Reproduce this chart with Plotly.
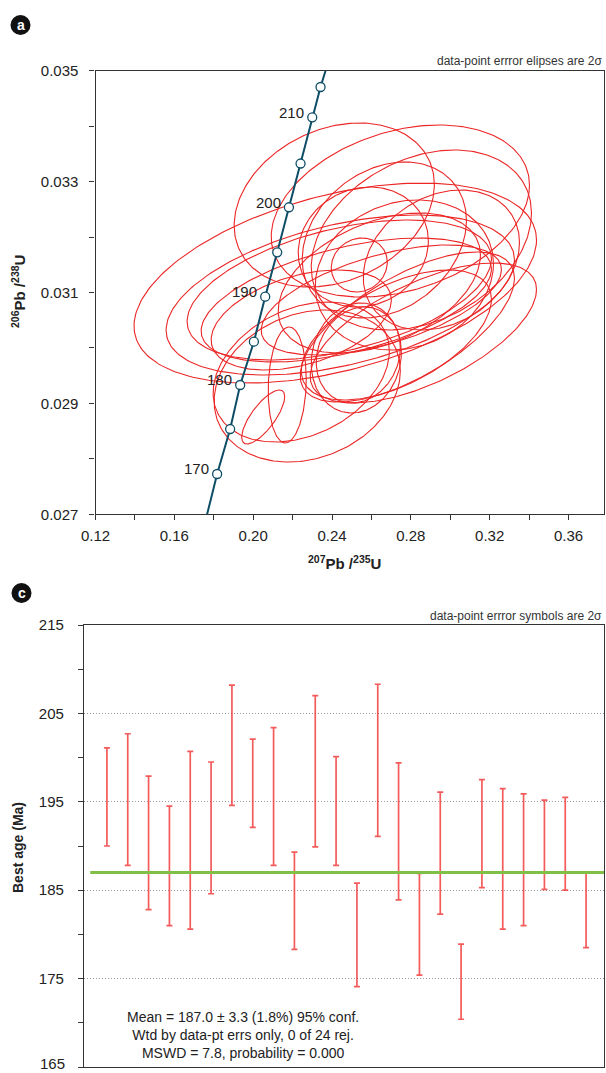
import numpy as np
import plotly.graph_objects as go

# ---------------- data: concordia (panel a) ----------------
conc_age = [170, 175, 180, 185, 190, 195, 200, 205, 210, 215]
conc_x = [0.18171, 0.18832, 0.19340, 0.20036, 0.20610, 0.21219, 0.21813, 0.22403, 0.22997, 0.23418]
conc_y = [0.027727, 0.028538, 0.029332, 0.030113, 0.030924, 0.031725, 0.032537, 0.033326, 0.034160, 0.034706]
conc_end_x = [0.17663, 0.23672]
conc_end_y = [0.027, 0.035]
conc_labels = [170, 180, 190, 200, 210]

# ---------------- data: error ellipses (panel a, 2 sigma) ----------------
ell_x = [0.24114, 0.27467, 0.26654, 0.25384, 0.25587, 0.24165, 0.24419, 0.24368,
         0.24724, 0.22743, 0.22438, 0.20508, 0.21727, 0.28635, 0.27822, 0.27263,
         0.25232, 0.25333, 0.29549, 0.27670, 0.26400, 0.28533, 0.26502, 0.22438]
ell_sx = [0.05079, 0.06552, 0.04165, 0.01422, 0.03302, 0.10210, 0.08838, 0.07721,
          0.07365, 0.04724, 0.04470, 0.01092, 0.00965, 0.05740, 0.05435, 0.04825,
          0.02286, 0.02133, 0.03962, 0.04521, 0.05130, 0.05587, 0.06095, 0.04571]
ell_y = [0.032578, 0.032470, 0.031947, 0.031496, 0.031821, 0.031171, 0.030955, 0.031045,
         0.030865, 0.029314, 0.029566, 0.028755, 0.029332, 0.030270, 0.030378, 0.030234,
         0.029819, 0.029873, 0.031586, 0.031316, 0.031171, 0.031947, 0.030865, 0.030504]
ell_sy = [0.001479, 0.001551, 0.001407, 0.000487, 0.001082, 0.001803, 0.001443, 0.001262,
          0.001118, 0.001371, 0.001262, 0.000487, 0.001046, 0.001262, 0.001353, 0.001172,
          0.000992, 0.000866, 0.001262, 0.001353, 0.001262, 0.001623, 0.000992, 0.000902]
ell_rho = [0.25, 0.30, 0.25, 0.10, 0.10, 0.43, 0.44, 0.45,
           0.50, 0.20, 0.30, 0.75, 0.10, 0.62, 0.65, 0.55,
           0.10, 0.15, 0.25, 0.15, 0.40, 0.30, 0.55, 0.40]

# ---------------- data: best ages (panel c, 2 sigma) ----------------
age_lo = [190.0, 187.8, 182.8, 181.0, 180.6, 184.6, 194.6, 192.1, 187.8, 178.3, 189.9, 187.8,
          174.1, 191.1, 183.9, 175.4, 182.3, 170.4, 185.3, 180.6, 181.0, 185.1, 185.0, 178.5]
age_hi = [201.1, 202.7, 197.9, 194.5, 200.7, 199.5, 208.2, 202.1, 203.4, 189.3, 207.0, 200.1,
          185.8, 208.3, 199.4, 186.9, 196.1, 178.9, 197.5, 196.5, 195.9, 195.2, 195.5, 187.0]
wmean = 187.0
age_ticks = [165, 175, 185, 195, 205, 215]

# ---------------- figure ----------------
W, H = 606, 1073
FONT = "Liberation Sans, Arial, Helvetica, sans-serif"
RED = "rgb(236,38,38)"
TEAL = "#0e4d66"
AX = "#333333"

def px(x):
    return x / W

def py(y):
    return 1 - y / H

fig = go.Figure()

# ellipses
t = np.linspace(0, 2 * np.pi, 241)
for xc, sx, yc, sy, r in zip(ell_x, ell_sx, ell_y, ell_sy, ell_rho):
    ex = xc + sx * np.cos(t)
    ey = yc + sy * (r * np.cos(t) + np.sqrt(1 - r * r) * np.sin(t))
    fig.add_trace(go.Scatter(x=ex, y=ey, mode="lines", line=dict(color=RED, width=1.1),
                             hoverinfo="skip", xaxis="x", yaxis="y"))

# concordia line + markers
lx = [conc_end_x[0]] + conc_x + [conc_end_x[1]]
ly = [conc_end_y[0]] + conc_y + [conc_end_y[1]]
fig.add_trace(go.Scatter(x=lx, y=ly, mode="lines", line=dict(color=TEAL, width=2),
                         xaxis="x", yaxis="y"))
fig.add_trace(go.Scatter(x=conc_x, y=conc_y, mode="markers",
                         marker=dict(size=9, color="white", line=dict(color=TEAL, width=1.3)),
                         xaxis="x", yaxis="y"))
for a, xx, yy in zip(conc_age, conc_x, conc_y):
    if a in conc_labels:
        fig.add_annotation(x=xx, y=yy, xref="x", yref="y", text=str(a), showarrow=False,
                           xanchor="right", yanchor="middle", xshift=-6, yshift=5,
                           font=dict(family=FONT, size=15, color="#222"))

# panel c error bars
n = len(age_lo)
idx = list(range(1, n + 1))
mid = [(a + b) / 2 for a, b in zip(age_lo, age_hi)]
half = [(b - a) / 2 for a, b in zip(age_lo, age_hi)]
fig.add_trace(go.Scatter(x=idx, y=mid, mode="markers", marker=dict(size=1, color="rgba(0,0,0,0)"),
                         error_y=dict(type="data", array=half, symmetric=True,
                                      color="rgba(240,50,50,0.8)", thickness=1.7, width=3),
                         xaxis="x2", yaxis="y2"))

# weighted mean line
fig.add_shape(type="line", xref="x2 domain", yref="y2", x0=0.012, x1=1, y0=wmean, y1=wmean,
              line=dict(color="rgb(128,192,70)", width=3))

axis_common = dict(showline=True, mirror=True, linecolor=AX, linewidth=1.3, zeroline=False,
                   automargin=False, tickfont=dict(family=FONT, size=15, color="#222"))

fig.update_layout(
    width=W, height=H, margin=dict(l=0, r=0, t=0, b=0, pad=0, autoexpand=False),
    paper_bgcolor="white", plot_bgcolor="white", showlegend=False,
    xaxis=dict(domain=[px(95.5), px(604)], range=[0.12, 0.378], anchor="y", showgrid=False,
               tickvals=[0.12, 0.16, 0.20, 0.24, 0.28, 0.32, 0.36],
               ticktext=["0.12", "0.16", "0.20", "0.24", "0.28", "0.32", "0.36"],
               ticks="outside", ticklen=5, tickcolor=AX, ticklabelstandoff=3,
               minor=dict(ticks="outside", tick0=0.12, dtick=0.02, ticklen=5, tickcolor=AX),
               **axis_common),
    yaxis=dict(domain=[py(514.3), py(70.7)], range=[0.027, 0.035], anchor="x", showgrid=False,
               tickvals=[0.027, 0.029, 0.031, 0.033, 0.035],
               ticktext=["0.027", "0.029", "0.031", "0.033", "0.035"],
               ticks="outside", ticklen=5, tickcolor=AX, ticklabelstandoff=8,
               minor=dict(ticks="outside", tick0=0.027, dtick=0.001, ticklen=5, tickcolor=AX),
               **axis_common),
    xaxis2=dict(domain=[px(84), px(604)], range=[-0.1, 24.86], anchor="y2", showgrid=False,
                showticklabels=False, ticks="", **axis_common),
    yaxis2=dict(domain=[py(1067), py(625)], range=[165, 215], anchor="x2",
                tickvals=age_ticks,
                ticktext=["" if v == age_ticks[0] else str(v) for v in age_ticks],
                ticks="outside", ticklen=5, tickcolor=AX, ticklabelstandoff=11,
                minor=dict(ticks="outside", tick0=165, dtick=5, ticklen=5, tickcolor=AX),
                showgrid=True, gridcolor="#999999", griddash="1px,2px", gridwidth=1,
                **axis_common),
)

# bottom tick label lifted slightly so that it stays inside the page
fig.add_annotation(x=px(67), y=age_ticks[0], xref="paper", yref="y2", text=str(age_ticks[0]),
                   showarrow=False, xanchor="right", yanchor="middle", yshift=4,
                   font=dict(family=FONT, size=15, color="#222"))

# panel badges
for cx, cy, letter in [(20.5, 25, "a"), (21.5, 593, "c")]:
    fig.add_shape(type="circle", xref="paper", yref="paper",
                  x0=px(cx - 10), x1=px(cx + 10), y0=py(cy + 10), y1=py(cy - 10),
                  fillcolor="#111", line=dict(color="#111", width=0))
    fig.add_annotation(x=px(cx), y=py(cy), xref="paper", yref="paper", text="<b>%s</b>" % letter,
                       showarrow=False, xanchor="center", yanchor="middle",
                       font=dict(family=FONT, size=14, color="white"))

# notes
fig.add_annotation(x=px(604), y=py(61), xref="paper", yref="paper", xanchor="right", yanchor="middle",
                   text="data-point errror elipses are 2σ", showarrow=False,
                   font=dict(family=FONT, size=12, color="#333"))
fig.add_annotation(x=px(604), y=py(616), xref="paper", yref="paper", xanchor="right", yanchor="middle",
                   text="data-point errror symbols are 2σ", showarrow=False,
                   font=dict(family=FONT, size=12, color="#333"))

# axis titles
fig.add_annotation(x=px(345), y=py(562), xref="paper", yref="paper", xanchor="center", yanchor="middle",
                   text="<b><sup>207</sup>Pb /<sup>235</sup>U</b>", showarrow=False,
                   font=dict(family=FONT, size=15, color="#222"))
fig.add_annotation(x=px(18), y=py(292), xref="paper", yref="paper", xanchor="center", yanchor="middle",
                   text="<b><sup>206</sup>Pb /<sup>238</sup>U</b>", showarrow=False, textangle=-90,
                   font=dict(family=FONT, size=15, color="#222"))
fig.add_annotation(x=px(18), y=py(848), xref="paper", yref="paper", xanchor="center", yanchor="middle",
                   text="<b>Best age (Ma)</b>", showarrow=False, textangle=-90,
                   font=dict(family=FONT, size=14, color="#222"))

# statistics text
fig.add_annotation(x=px(243), y=py(1034.5), xref="paper", yref="paper", xanchor="center", yanchor="middle",
                   text="Mean = 187.0 ± 3.3 (1.8%) 95% conf.<br>Wtd by data-pt errs only, 0 of 24 rej.<br>"
                        "MSWD = 7.8, probability = 0.000",
                   showarrow=False, align="center",
                   font=dict(family=FONT, size=14, color="#222"))

fig.write_html("out.html", config={"displayModeBar": False},
               post_script="document.body.style.margin='0px';")
